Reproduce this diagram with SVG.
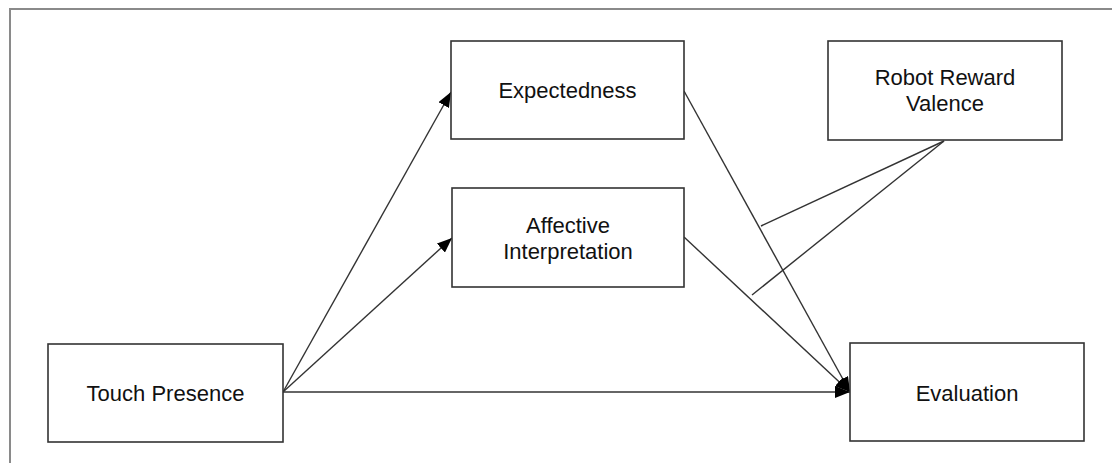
<svg xmlns="http://www.w3.org/2000/svg" width="1112" height="463" viewBox="0 0 1112 463">
  <defs>
    <style>
      .frame { fill: none; stroke: #8a8a8a; stroke-width: 2; }
      .box { fill: #ffffff; stroke: #333333; stroke-width: 1.6; }
      .label { font-family: "Liberation Sans", Arial, Helvetica, sans-serif; font-size: 22px; fill: #111111; text-anchor: middle; }
      .edge { fill: none; stroke: #333333; stroke-width: 1.4; }
    </style>
    <marker id="arrow" markerUnits="userSpaceOnUse" markerWidth="15" markerHeight="12" refX="15" refY="6" orient="auto">
      <path d="M0,0 L15,6 L0,12 Z" fill="#000000"/>
    </marker>
  </defs>

  <rect width="1112" height="463" fill="#ffffff"/>
  <!-- outer frame, open on the right and bottom -->
  <path class="frame" d="M10,463 V9 H1112"/>

  <g id="connectors">
    <line class="edge" x1="283" y1="392" x2="451" y2="92" marker-end="url(#arrow)"/>
    <line class="edge" x1="283" y1="392" x2="452" y2="238" marker-end="url(#arrow)"/>
    <line class="edge" x1="283" y1="392" x2="850" y2="392" marker-end="url(#arrow)"/>
    <line class="edge" x1="684" y1="91" x2="850" y2="392" marker-end="url(#arrow)"/>
    <line class="edge" x1="684" y1="237" x2="850" y2="392" marker-end="url(#arrow)"/>
    <line class="edge" x1="944" y1="141" x2="761" y2="226"/>
    <line class="edge" x1="944" y1="141" x2="752" y2="295"/>
  </g>

  <g id="expectedness">
    <rect class="box" x="451" y="41" width="233" height="98"/>
    <text class="label" x="567.5" y="98">Expectedness</text>
  </g>

  <g id="robot-reward-valence">
    <rect class="box" x="828" y="41" width="234" height="99"/>
    <text class="label" x="945" y="85">Robot Reward</text>
    <text class="label" x="945" y="111">Valence</text>
  </g>

  <g id="affective-interpretation">
    <rect class="box" x="452" y="188" width="232" height="99"/>
    <text class="label" x="568" y="233">Affective</text>
    <text class="label" x="568" y="259">Interpretation</text>
  </g>

  <g id="touch-presence">
    <rect class="box" x="48" y="344" width="235" height="98"/>
    <text class="label" x="165.5" y="401">Touch Presence</text>
  </g>

  <g id="evaluation">
    <rect class="box" x="850" y="343" width="234" height="98"/>
    <text class="label" x="967" y="401">Evaluation</text>
  </g>
</svg>
